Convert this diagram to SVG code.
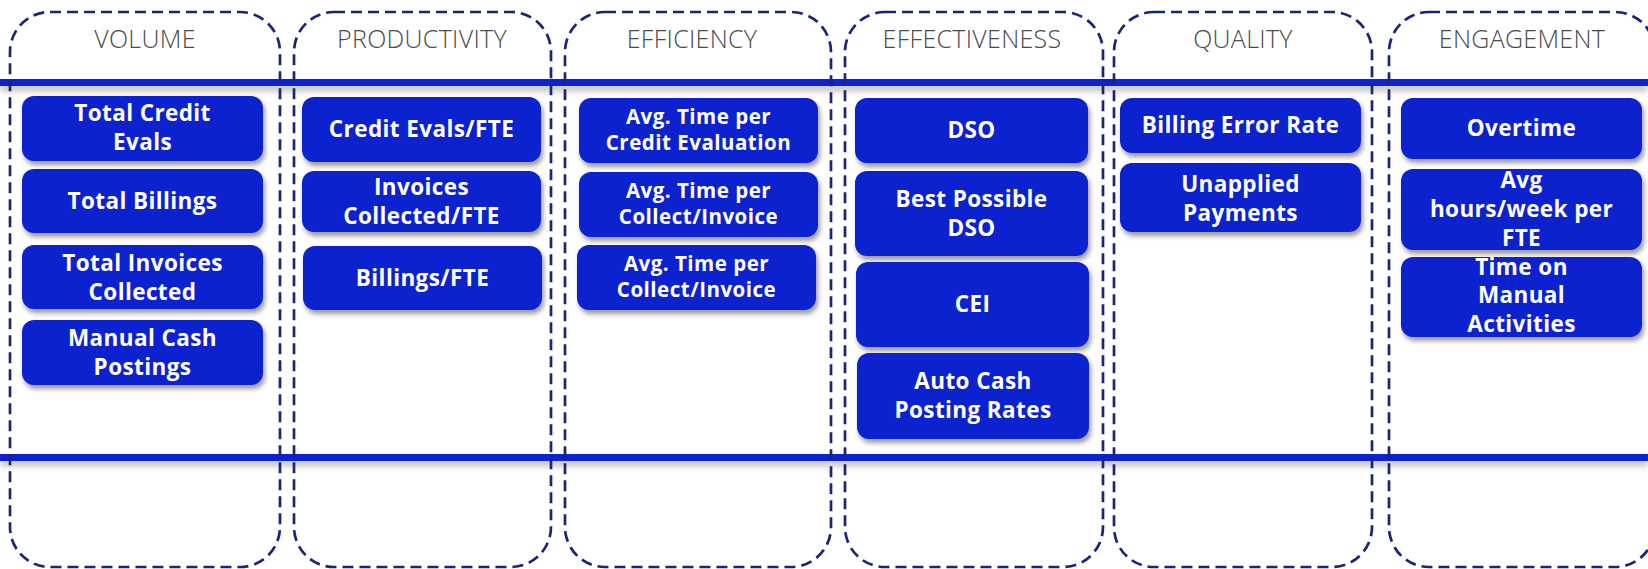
<svg xmlns="http://www.w3.org/2000/svg" width="1648" height="569" viewBox="0 0 1648 569">
<defs>
<filter id="bsh" x="-10%" y="-20%" width="120%" height="150%">
<feDropShadow dx="2" dy="4" stdDeviation="2.5" flood-color="#000" flood-opacity="0.4"/>
</filter>
<filter id="lsh" x="0" y="-100%" width="100%" height="400%">
<feDropShadow dx="0" dy="5" stdDeviation="3" flood-color="#000" flood-opacity="0.25"/>
</filter>
<style>
.col{fill:none;stroke:#1B237A;stroke-width:2.7;stroke-dasharray:11 6}
.hd{font-family:"Open Sans","Liberation Sans",sans-serif;font-weight:300;font-size:25px;fill:#4a4a4a;text-anchor:middle;letter-spacing:0.3px}
.bx{fill:#0820CF;filter:url(#bsh)}
.t{font-family:"Open Sans","Liberation Sans",sans-serif;font-weight:700;font-size:22.5px;fill:#fff;text-anchor:middle;letter-spacing:0.4px}
.s{font-size:20.5px;letter-spacing:0.5px}
.ln{fill:#0A22D0;filter:url(#lsh)}
</style>
</defs>
<g id="bands">
<rect class="ln" x="0" y="79" width="1648" height="7"/>
<rect class="ln" x="0" y="454" width="1648" height="7"/>
</g>
<g id="columns">
<g id="col-volume"><rect class="col" x="10" y="12" width="270" height="555" rx="40"/><text class="hd" x="145" y="48">VOLUME</text></g>
<g id="col-productivity"><rect class="col" x="294" y="12" width="257" height="555" rx="40"/><text class="hd" x="422" y="48">PRODUCTIVITY</text></g>
<g id="col-efficiency"><rect class="col" x="565" y="12" width="266" height="555" rx="40"/><text class="hd" x="692" y="48">EFFICIENCY</text></g>
<g id="col-effectiveness"><rect class="col" x="845" y="12" width="258" height="555" rx="40"/><text class="hd" x="972" y="48">EFFECTIVENESS</text></g>
<g id="col-quality"><rect class="col" x="1114" y="12" width="258" height="555" rx="40"/><text class="hd" x="1243" y="48">QUALITY</text></g>
<g id="col-engagement"><rect class="col" x="1389" y="12" width="266" height="555" rx="40"/><text class="hd" x="1522" y="48">ENGAGEMENT</text></g>
</g>
<g id="connectors"></g>
<g id="n-total-credit-evals"><rect class="bx" x="22" y="96" width="241" height="65" rx="12"/><text class="t" x="142.5" y="121">Total Credit<tspan x="142.5" dy="29">Evals</tspan></text></g>
<g id="n-total-billings"><rect class="bx" x="22" y="169" width="241" height="64" rx="12"/><text class="t" x="142.5" y="209">Total Billings</text></g>
<g id="n-total-invoices"><rect class="bx" x="22" y="245" width="241" height="64" rx="12"/><text class="t" x="142.5" y="271">Total Invoices<tspan x="142.5" dy="29">Collected</tspan></text></g>
<g id="n-manual-cash"><rect class="bx" x="22" y="320" width="241" height="65" rx="12"/><text class="t" x="142.5" y="346">Manual Cash<tspan x="142.5" dy="29">Postings</tspan></text></g>

<g id="n-credit-evals-fte"><rect class="bx" x="302" y="97" width="239" height="65" rx="12"/><text class="t" x="421.5" y="137">Credit Evals/FTE</text></g>
<g id="n-invoices-fte"><rect class="bx" x="302" y="171" width="239" height="61" rx="12"/><text class="t" x="421.5" y="195">Invoices<tspan x="421.5" dy="29">Collected/FTE</tspan></text></g>
<g id="n-billings-fte"><rect class="bx" x="303" y="246" width="239" height="64" rx="12"/><text class="t" x="422.5" y="286">Billings/FTE</text></g>

<g id="n-time-credit"><rect class="bx" x="579" y="98" width="239" height="65" rx="12"/><text class="t s" x="698.5" y="124">Avg. Time per<tspan x="698.5" dy="26">Credit Evaluation</tspan></text></g>
<g id="n-time-collect-1"><rect class="bx" x="579" y="172" width="239" height="65" rx="12"/><text class="t s" x="698.5" y="198">Avg. Time per<tspan x="698.5" dy="26">Collect/Invoice</tspan></text></g>
<g id="n-time-collect-2"><rect class="bx" x="577" y="245" width="239" height="65" rx="12"/><text class="t s" x="696.5" y="271">Avg. Time per<tspan x="696.5" dy="26">Collect/Invoice</tspan></text></g>

<g id="n-dso"><rect class="bx" x="855" y="98" width="233" height="65" rx="12"/><text class="t" x="971.5" y="138">DSO</text></g>
<g id="n-best-dso"><rect class="bx" x="855" y="171" width="233" height="85" rx="12"/><text class="t" x="971.5" y="207">Best Possible<tspan x="971.5" dy="29">DSO</tspan></text></g>
<g id="n-cei"><rect class="bx" x="856" y="262" width="233" height="85" rx="12"/><text class="t" x="972.5" y="312">CEI</text></g>
<g id="n-auto-cash"><rect class="bx" x="857" y="353" width="232" height="86" rx="12"/><text class="t" x="973" y="389">Auto Cash<tspan x="973" dy="29">Posting Rates</tspan></text></g>

<g id="n-billing-error"><rect class="bx" x="1120" y="98" width="241" height="55" rx="12"/><text class="t" x="1240.5" y="133">Billing Error Rate</text></g>
<g id="n-unapplied"><rect class="bx" x="1120" y="163" width="241" height="69" rx="12"/><text class="t" x="1240.5" y="192">Unapplied<tspan x="1240.5" dy="29">Payments</tspan></text></g>

<g id="n-overtime"><rect class="bx" x="1401" y="98" width="241" height="61" rx="12"/><text class="t" x="1521.5" y="136">Overtime</text></g>
<g id="n-avg-hours"><rect class="bx" x="1401" y="169" width="241" height="81" rx="12"/><text class="t" x="1521.5" y="188">Avg<tspan x="1521.5" dy="29">hours/week per</tspan><tspan x="1521.5" dy="29">FTE</tspan></text></g>
<g id="n-manual-time"><rect class="bx" x="1401" y="257" width="241" height="80" rx="12"/><text class="t" x="1521.5" y="275">Time on<tspan x="1521.5" dy="28">Manual</tspan><tspan x="1521.5" dy="29">Activities</tspan></text></g>
</svg>
